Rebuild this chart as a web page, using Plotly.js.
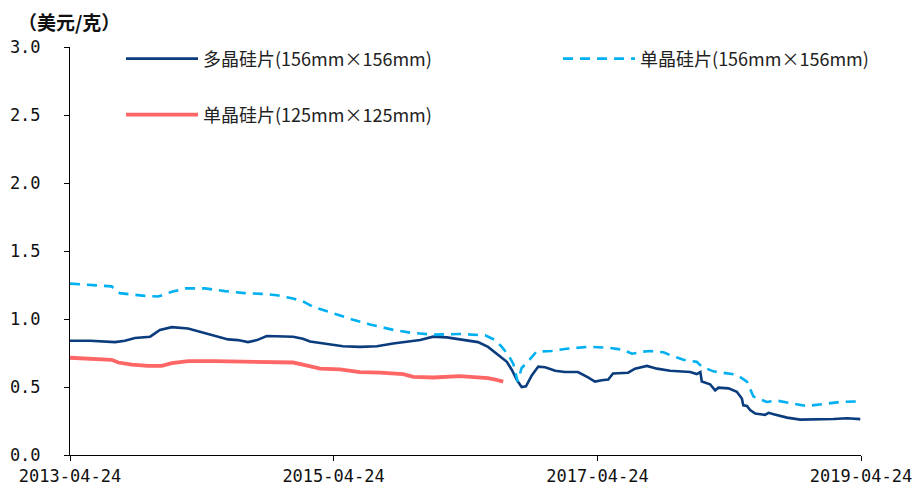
<!DOCTYPE html>
<html>
<head>
<meta charset="utf-8">
<script src="https://cdn.plot.ly/plotly-3.0.1.min.js"></script>
<style>html,body{margin:0;padding:0;background:#fff;}#chart{width:915px;height:488px;}</style>
</head>
<body>
<div id="chart"></div>
<script>
// 多晶硅片(156mm×156mm)
const polyDates = ["2013-04-24","2013-06-18","2013-08-27","2013-09-23","2013-10-21","2013-12-02","2013-12-29","2014-01-31","2014-03-17","2014-04-14","2014-05-11","2014-06-08","2014-07-06","2014-08-02","2014-08-30","2014-09-24","2014-10-21","2015-01-02","2015-01-29","2015-02-18","2015-04-05","2015-05-20","2015-07-06","2015-08-22","2015-10-06","2015-11-22","2015-12-20","2016-01-25","2016-03-03","2016-04-08","2016-05-28","2016-06-25","2016-07-23","2016-08-16","2016-08-30","2016-09-13","2016-09-26","2016-10-08","2016-10-24","2016-11-11","2016-11-30","2016-12-28","2017-01-24","2017-03-01","2017-03-29","2017-04-17","2017-05-06","2017-05-24","2017-06-06","2017-07-18","2017-08-06","2017-09-08","2017-10-06","2017-11-11","2018-01-06","2018-01-24","2018-02-03","2018-02-07","2018-03-02","2018-03-16","2018-03-25","2018-04-22","2018-05-15","2018-05-29","2018-06-02","2018-06-12","2018-06-21","2018-07-05","2018-08-01","2018-08-11","2018-08-25","2018-10-01","2018-11-07","2019-01-01","2019-02-07","2019-03-16","2019-04-22"];
const polyValues = [0.84,0.84,0.83,0.84,0.86,0.87,0.92,0.94,0.93,0.91,0.895,0.87,0.85,0.845,0.83,0.845,0.875,0.87,0.855,0.835,0.82,0.80,0.795,0.80,0.82,0.835,0.845,0.87,0.865,0.85,0.83,0.795,0.735,0.685,0.625,0.55,0.50,0.505,0.585,0.65,0.645,0.62,0.61,0.61,0.57,0.54,0.55,0.555,0.60,0.605,0.635,0.655,0.635,0.62,0.61,0.595,0.61,0.54,0.52,0.475,0.495,0.49,0.465,0.415,0.365,0.36,0.33,0.305,0.295,0.31,0.30,0.275,0.26,0.26,0.265,0.27,0.264];

// 单晶硅片(156mm×156mm)
const mono156Dates = ["2013-04-24","2013-07-11","2013-08-17","2013-09-09","2013-10-12","2013-11-18","2013-12-24","2014-01-31","2014-03-09","2014-05-03","2014-06-27","2014-08-22","2014-10-07","2014-11-18","2015-01-02","2015-01-29","2015-02-26","2015-04-23","2015-06-17","2015-08-03","2015-10-06","2015-11-22","2016-01-25","2016-04-08","2016-06-17","2016-07-15","2016-08-02","2016-08-20","2016-09-03","2016-09-15","2016-09-26","2016-10-13","2016-11-06","2016-12-18","2017-01-24","2017-03-29","2017-05-20","2017-07-01","2017-07-29","2017-08-30","2017-09-17","2017-10-24","2017-11-11","2017-12-18","2018-01-24","2018-02-07","2018-03-11","2018-05-15","2018-06-12","2018-06-30","2018-08-06","2018-09-03","2018-10-10","2018-11-25","2019-01-10","2019-02-26","2019-04-22"];
const mono156Values = [1.26,1.247,1.24,1.19,1.18,1.17,1.165,1.20,1.225,1.225,1.205,1.19,1.185,1.175,1.15,1.13,1.09,1.04,0.995,0.96,0.92,0.90,0.885,0.89,0.88,0.845,0.795,0.735,0.67,0.54,0.64,0.685,0.76,0.765,0.78,0.795,0.79,0.775,0.745,0.76,0.765,0.755,0.735,0.70,0.685,0.65,0.615,0.59,0.54,0.43,0.39,0.40,0.38,0.36,0.375,0.39,0.395];

// 单晶硅片(125mm×125mm)
const mono125Dates = ["2013-04-24","2013-06-23","2013-08-17","2013-09-05","2013-10-12","2013-11-27","2014-01-03","2014-01-31","2014-02-27","2014-03-18","2014-05-31","2014-08-03","2014-10-16","2015-01-02","2015-01-29","2015-03-18","2015-05-12","2015-07-06","2015-08-31","2015-11-03","2015-12-01","2016-01-26","2016-04-08","2016-05-20","2016-06-25","2016-07-15","2016-08-06"];
const mono125Values = [0.715,0.71,0.70,0.68,0.665,0.655,0.655,0.675,0.68,0.69,0.69,0.685,0.685,0.68,0.665,0.635,0.63,0.61,0.605,0.595,0.575,0.57,0.58,0.575,0.565,0.555,0.54];

const seriesNames = ["多晶硅片(156mm×156mm)","单晶硅片(156mm×156mm)","单晶硅片(125mm×125mm)"];
const xTickVals = ["2013-04-24","2015-04-24","2017-04-24","2019-04-24"];
const xTickText = ["2013-04-24","2015-04-24","2017-04-24","2019-04-24"];
const unitLabel = "（美元/克）";

const cjk = '"Noto Sans CJK SC", "Noto Sans", sans-serif';
const mono = '"DejaVu Sans Mono", "Liberation Mono", monospace';

const traces = [
  {x: polyDates, y: polyValues, name: seriesNames[0], type: 'scatter', mode: 'lines',
   line: {color: '#0b3c7d', width: 2.6}, legend: 'legend'},
  {x: mono156Dates, y: mono156Values, name: seriesNames[1], type: 'scatter', mode: 'lines',
   line: {color: '#00b0f0', width: 2.6, dash: '10px,7px'}, legend: 'legend2'},
  {x: mono125Dates, y: mono125Values, name: seriesNames[2], type: 'scatter', mode: 'lines',
   line: {color: '#ff6666', width: 3.8}, legend: 'legend3'}
];

const legendBase = {font: {family: cjk, size: 18, color: '#222'}, bgcolor: 'rgba(0,0,0,0)',
  xanchor: 'left', yanchor: 'top', itemwidth: 72, orientation: 'v'};

const layout = {
  width: 915, height: 488,
  margin: {l: 70, r: 54, t: 47, b: 33},
  paper_bgcolor: '#fff', plot_bgcolor: '#fff',
  showlegend: true,
  legend: Object.assign({}, legendBase, {x: 0.0645, y: 1.016}),
  legend2: Object.assign({}, legendBase, {x: 0.617, y: 1.016}),
  legend3: Object.assign({}, legendBase, {x: 0.0645, y: 0.879}),
  xaxis: {
    type: 'date', range: ['2013-04-24', '2019-04-24'],
    tickmode: 'array', tickvals: xTickVals, ticktext: xTickText,
    showgrid: false, zeroline: false,
    showline: true, linecolor: '#000', linewidth: 1,
    ticks: 'outside', ticklen: 5, tickcolor: '#000',
    ticklabelstandoff: 1,
    tickfont: {family: mono, size: 17, color: '#111'}
  },
  yaxis: {
    range: [0, 3], dtick: 0.5, tick0: 0, tickformat: '.1f',
    showgrid: false, zeroline: false,
    showline: true, linecolor: '#000', linewidth: 1,
    ticks: 'outside', ticklen: 5, tickcolor: '#000',
    ticklabelstandoff: 20,
    tickfont: {family: mono, size: 17, color: '#111'}
  },
  annotations: [
    {text: '<b>' + unitLabel + '</b>', xref: 'paper', yref: 'paper', x: -0.068, y: 1.063,
     xanchor: 'left', yanchor: 'middle', showarrow: false,
     font: {family: cjk, size: 19, color: '#111'}}
  ]
};

Plotly.newPlot('chart', traces, layout, {displayModeBar: false, staticPlot: true});
</script>
</body>
</html>
